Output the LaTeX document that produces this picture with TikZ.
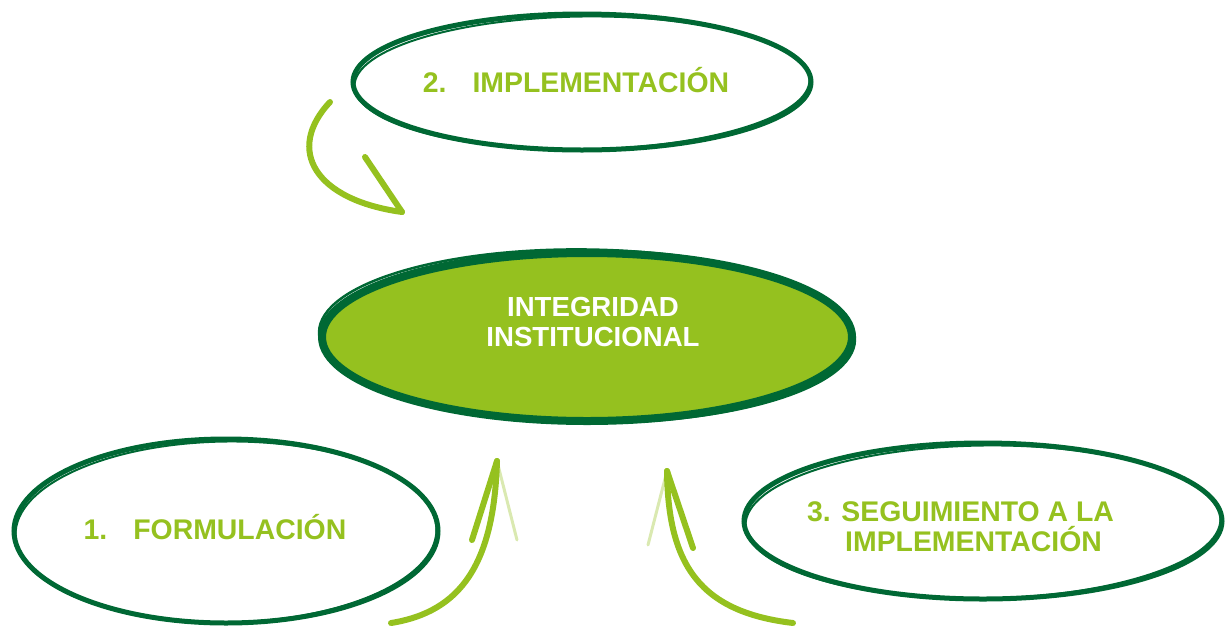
\documentclass[tikz,border=0pt]{standalone}
\usepackage{fontspec}
\setmainfont{Liberation Sans}
\usetikzlibrary{shapes.geometric}
\definecolor{dkgreen}{RGB}{0,104,52}
\definecolor{ltgreen}{RGB}{149,193,31}
\begin{document}
\begin{tikzpicture}[x=1pt,y=-1pt,
  oval/.style={ellipse, draw=dkgreen, line width=5pt, inner sep=0pt, outer sep=0pt},
  ovalb/.style={ellipse, draw=dkgreen, line width=2pt, inner sep=0pt, outer sep=0pt, rotate=0.8},
  lbl/.style={text=ltgreen, font=\fontsize{28.4}{31}\selectfont\bfseries, inner sep=0pt, align=center},
  ctxt/.style={text=white, font=\fontsize{27.6}{29.5}\selectfont\bfseries, inner sep=0pt, align=center},
  brush/.style={draw=ltgreen, line width=6pt, line cap=round, line join=round},
  faint/.style={draw=ltgreen, line width=3pt, line cap=round, opacity=0.35}]
\useasboundingbox (0,0) rectangle (1227,630);

% ellipses
\node[oval, minimum width=458pt, minimum height=136pt] (top) at (582,82) {};
\node[ovalb, minimum width=455pt, minimum height=133pt] (top2) at (582,83) {};
\node[oval, minimum width=424pt, minimum height=184pt] (left) at (226,531) {};
\node[ovalb, minimum width=421pt, minimum height=181pt] (left2) at (226,532) {};
\node[oval, minimum width=478pt, minimum height=156pt] (right) at (983,521) {};
\node[ovalb, minimum width=475pt, minimum height=153pt] (right2) at (983,522) {};
\node[ellipse, fill=ltgreen, draw=dkgreen, line width=8pt, inner sep=0pt,
      minimum width=530pt, minimum height=168pt] (mid) at (587,337) {};
\node[ellipse, draw=dkgreen, line width=2.5pt, inner sep=0pt, rotate=-0.8,
      minimum width=536pt, minimum height=173pt] (mid2) at (587,336) {};

% texts
\node[ctxt] (tmid) at (593,322) {INTEGRIDAD\\INSTITUCIONAL};
\node[lbl] (ttop) at (576,80) {2.\hspace{26pt}IMPLEMENTACIÓN};
\node[lbl] (tleft) at (215,527) {1.\hspace{26pt}FORMULACIÓN};
\node[lbl, anchor=west] (tr1) at (807,512) {3. SEGUIMIENTO A LA};
\node[lbl, anchor=west] (tr2) at (845,539) {IMPLEMENTACIÓN};

% arrow coordinates
\coordinate (a1s) at (330,102);
\coordinate (a1t) at (402,212);
\coordinate (a1h) at (365,157);
\coordinate (a2s) at (391,623);
\coordinate (a2t) at (497,461);
\coordinate (a2l) at (472,540);
\coordinate (a2r) at (517,540);
\coordinate (a3s) at (793,623);
\coordinate (a3t) at (667,471);
\coordinate (a3r) at (693,548);
\coordinate (a3l) at (648,545);

% arrows
\draw[brush] (a1s) .. controls (285,150) and (315,200) .. (a1t);
\draw[brush] (a1h) -- (a1t);
\draw[brush] (a2s) .. controls (460,612) and (494,565) .. (a2t);
\draw[brush] (a2l) -- (a2t);
\draw[faint] (a2t) -- (a2r);
\draw[brush] (a3s) .. controls (700,612) and (668,565) .. (a3t);
\draw[brush] (a3r) -- (a3t);
\draw[faint] (a3t) -- (a3l);
\end{tikzpicture}
\end{document}
